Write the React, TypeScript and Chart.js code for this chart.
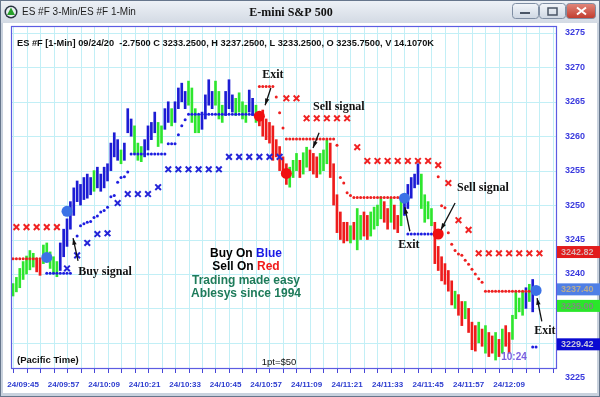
import React, { useEffect, useRef } from "react";
import { Chart, registerables } from "chart.js";

Chart.register(...registerables);

// ---- bar data: index = minutes after 09:42 (1-min bars) ----
const barLow = [
  3236.8, 3237.4, 3238.0, 3239.2, 3240.0, 3240.6, 3241.0, 3240.3, 3239.8, 3241.5,
  3242.0, 3240.8, 3240.0, 3239.6, 3240.5, 3242.5, 3244.0, 3246.5, 3248.5, 3250.5,
  3250.0, 3250.8, 3251.0, 3251.5, 3252.0, 3252.5, 3252.0, 3252.5, 3253.5, 3255.0,
  3257.0, 3256.5, 3256.0, 3256.5, 3260.5, 3260.0, 3257.5, 3256.5, 3256.3, 3257.0,
  3258.0, 3259.5, 3260.5, 3258.5, 3259.0, 3261.0, 3262.0, 3261.5, 3262.0, 3264.0,
  3265.0, 3264.0, 3264.5, 3262.0, 3260.5, 3260.5, 3261.0, 3262.5, 3264.5, 3264.0,
  3264.5, 3262.5, 3262.0, 3263.0, 3264.0, 3263.5, 3263.0, 3263.5, 3262.5, 3262.0,
  3263.5, 3263.0, 3262.0, 3261.5, 3260.0, 3259.5, 3259.0, 3256.5, 3257.0, 3255.0,
  3254.5, 3253.0, 3252.6, 3254.0, 3255.0, 3254.0, 3254.5, 3255.5, 3255.0, 3254.5,
  3254.0, 3254.5, 3255.0, 3256.0, 3254.0, 3250.0, 3246.0, 3245.0, 3244.5, 3244.8,
  3244.5, 3245.0, 3243.5, 3245.0, 3245.5, 3245.0, 3245.5, 3246.5, 3247.0, 3248.0,
  3247.5, 3246.5, 3247.5, 3246.5, 3246.0, 3247.0, 3248.5, 3249.5, 3251.0, 3252.5,
  3253.0, 3249.5, 3247.5, 3248.0, 3247.0, 3241.5, 3240.5, 3239.0, 3238.5, 3237.5,
  3235.5, 3235.0, 3234.0, 3232.5, 3233.5, 3231.5, 3229.0, 3228.8, 3230.0, 3229.5,
  3228.5, 3228.0, 3228.5, 3227.5, 3228.0, 3228.5, 3229.5, 3228.5, 3230.5, 3233.5,
  3234.5, 3234.0, 3235.0, 3236.0, 3234.5,
];
const barHigh = [
  3238.6, 3239.5, 3240.8, 3241.8, 3242.6, 3243.4, 3243.0, 3242.3, 3242.0, 3244.2,
  3244.5, 3243.2, 3242.5, 3241.8, 3244.5, 3246.5, 3248.0, 3250.5, 3252.5, 3253.5,
  3253.0, 3254.0, 3254.5, 3254.0, 3255.0, 3255.5, 3254.5, 3255.5, 3256.0, 3259.0,
  3260.5, 3259.5, 3258.0, 3259.0, 3264.0, 3262.5, 3261.5, 3259.0, 3258.5, 3259.5,
  3261.5, 3262.0, 3263.5, 3262.0, 3261.5, 3264.0, 3265.0, 3264.0, 3265.0, 3267.0,
  3267.7, 3266.5, 3268.0, 3267.0, 3264.0, 3263.0, 3263.5, 3266.0, 3268.2, 3266.5,
  3268.0, 3266.5, 3264.5, 3266.5, 3268.2, 3266.0, 3265.5, 3266.3, 3265.0, 3264.5,
  3266.7, 3265.5, 3264.5, 3263.5, 3263.8, 3262.5, 3262.0, 3261.5, 3259.5, 3258.5,
  3257.0, 3256.0, 3255.5, 3256.5, 3257.5, 3256.5, 3257.6, 3258.4, 3258.0, 3257.5,
  3257.0, 3257.5, 3258.0, 3259.4, 3259.0, 3256.0, 3251.5, 3249.0, 3247.5, 3247.5,
  3247.0, 3247.5, 3249.5, 3248.5, 3249.0, 3248.5, 3249.0, 3249.7, 3250.0, 3251.2,
  3250.5, 3249.5, 3251.0, 3250.0, 3248.5, 3251.0, 3251.5, 3253.0, 3254.0, 3254.5,
  3256.0, 3254.5, 3251.5, 3250.5, 3249.5, 3247.5, 3244.0, 3242.5, 3241.5, 3240.5,
  3239.0, 3237.5, 3237.0, 3236.0, 3236.0, 3235.0, 3233.0, 3232.5, 3233.0, 3232.0,
  3232.5, 3231.5, 3231.0, 3231.5, 3230.5, 3232.0, 3232.5, 3231.5, 3234.0, 3237.5,
  3236.5, 3237.5, 3238.0, 3238.5, 3239.2,
];
// g = neutral/up (green), b = buy mode (blue), r = sell mode (red)
const barState = (
  "gggggggrrgggggbbbbbbbbbbgbbbbbbbgbbbgggbbbbggbbgbbbbggggbbbbgggbbbggggbbg" +
  "rrrrrrrrrgggrggrrrgggrrrrrrgrggrrggggrrgrrgbbbbbggggrrrrrrgrrgrrrgrgrrgrgrrggggbgb"
).split("");

// ---- trailing stop dots (1-min) ----
const redStopMin = [
  0, 1, 2, 3, 4, 5, 6, 7, 8, 9,
  73, 74, 75, 76, 77, 78, 79, 80,
  81, 82, 83, 84, 85, 86, 87, 88, 89, 90, 91, 92, 93, 94, 95,
  96, 97, 98, 99, 100, 101, 102, 103, 104, 105, 106, 107, 108, 109, 110, 111, 112, 113, 114, 115,
  126, 127, 128, 129, 130, 131, 132, 133, 134, 135, 136, 137, 138, 139,
  140, 141, 142, 143, 144, 145, 146, 147, 148, 149, 150, 151, 152, 153,
];
const redStopPrice = [
  3242.2, 3242.2, 3242.2, 3242.2, 3242.2, 3242.2, 3242.2, 3242.2, 3242.2, 3242.2,
  3267.2, 3267.2, 3267.2, 3267.2, 3267.2, 3265.7, 3263.4, 3261.2,
  3259.6, 3259.6, 3259.6, 3259.6, 3259.6, 3259.6, 3259.6, 3259.6, 3259.6, 3259.6, 3259.6, 3259.6, 3259.6, 3259.6, 3259.6,
  3258.7, 3254.0, 3253.2, 3251.8, 3251.4, 3251.1, 3251.1, 3251.1, 3251.1, 3251.1, 3251.1, 3251.1, 3251.1, 3251.1, 3251.1, 3251.1, 3251.1, 3251.1, 3251.1, 3251.1,
  3254.1, 3249.9, 3249.6, 3246.0, 3244.3, 3243.4, 3242.9, 3242.7, 3242.0, 3241.4, 3240.7, 3240.0, 3239.3, 3238.8,
  3237.5, 3237.5, 3237.5, 3237.5, 3237.5, 3237.5, 3237.5, 3237.5, 3237.5, 3237.5, 3237.5, 3237.5, 3237.5, 3237.5,
];
const blueStopMin = [
  10, 11, 12, 13, 14, 15, 16, 17,
  19, 20, 21, 22, 23, 24, 25, 26, 27, 28, 29, 30, 31, 32, 33, 34,
  35, 36, 37, 38, 39, 40, 41, 42, 43, 44, 45,
  46, 47, 48, 49, 50, 51,
  52, 53, 54, 55, 56, 57, 58, 59, 60, 61, 62, 63, 64, 65, 66, 67, 68, 69, 70, 71, 72,
  117, 118, 119, 120, 121, 122, 123, 124,
  154, 155,
];
const blueStopPrice = [
  3240.1, 3240.1, 3240.1, 3240.1, 3240.1, 3240.1, 3240.1, 3240.1,
  3245.5, 3247.0, 3247.3, 3247.5, 3247.6, 3248.2, 3248.4, 3249.0, 3249.2, 3249.7, 3251.2, 3251.4, 3253.3, 3254.0, 3254.1, 3254.8,
  3257.4, 3257.4, 3257.4, 3257.4, 3257.4, 3257.4, 3257.4, 3257.4, 3257.4, 3257.4, 3257.4,
  3258.9, 3258.9, 3258.9, 3260.2, 3261.5, 3262.4,
  3263.2, 3263.2, 3263.2, 3263.2, 3263.2, 3263.2, 3263.2, 3263.2, 3263.2, 3263.2, 3263.2, 3263.2, 3263.2, 3263.2, 3263.2, 3263.2, 3263.2, 3263.2, 3263.2, 3263.2, 3263.2,
  3245.8, 3245.8, 3245.8, 3245.8, 3245.8, 3245.8, 3245.8, 3245.8,
  3229.4, 3229.4,
];

// ---- 3-min X markers ----
const redXMin = [1, 4, 7, 10, 13, 81, 84, 87, 90, 93, 96, 99, 102, 105, 108, 111, 114, 117, 120, 123, 126, 129, 132, 135, 138, 141, 144, 147, 150, 153, 156];
const redXPrice = [
  3246.8, 3246.8, 3246.8, 3246.8, 3246.8, 3265.5, 3265.5, 3262.6, 3262.6, 3262.6, 3262.6, 3262.6, 3258.4,
  3256.4, 3256.4, 3256.4, 3256.4, 3256.4, 3256.4, 3256.4, 3255.8, 3253.2, 3247.8, 3246.4,
  3243.0, 3243.0, 3243.0, 3243.0, 3243.0, 3243.0, 3243.0,
];
const blueXMin = [16, 19, 22, 25, 28, 31, 34, 37, 40, 43, 46, 49, 52, 55, 58, 61, 64, 67, 70, 73, 76, 79];
const blueXPrice = [
  3240.8, 3242.7, 3244.5, 3245.8, 3245.9, 3250.3, 3251.6, 3251.6, 3251.6, 3252.6,
  3255.2, 3255.2, 3255.2, 3255.2, 3255.2, 3255.2, 3257.0, 3257.0, 3257.0, 3257.0, 3257.0, 3257.0,
];

// ---- signal circles ----
const blueDotMin = [10, 16, 116, 155];
const blueDotPrice = [3242.4, 3249.1, 3251.0, 3237.6];
const redDotMin = [73, 81, 126];
const redDotPrice = [3262.9, 3254.6, 3245.8];

// ---- axes ----
const timeLabels = ["24/09:45", "24/09:57", "24/10:09", "24/10:21", "24/10:33", "24/10:45", "24/10:57", "24/11:09", "24/11:21", "24/11:33", "24/11:45", "24/11:57", "24/12:09"];
const timeLabelMin = [3, 15, 27, 39, 51, 63, 75, 87, 99, 111, 123, 135, 147];
const priceTicks = [3275, 3270, 3265, 3260, 3255, 3250, 3245, 3240, 3235, 3230, 3225];
const tagValues = [3242.82, 3237.4, 3235.0, 3229.42];
const tagLabels = ["3242.82", "3237.40", "3235.00", "3229.42"];
const tagBg = ["#e21c1c", "#4f7fe6", "#2ae62a", "#0a0ad2"];
const tagFg = ["#dcb4b4", "#b8ab90", "#7f8a7f", "#c9c9dd"];

// ---- callouts (text anchor + arrow from -> to, in minute/price units) ----
const noteText = ["Buy signal", "Exit", "Sell signal", "Exit", "Sell signal", "Exit"];
const noteAlign = ["left", "center", "left", "center", "left", "center"];
const noteMin = [19.3, 77.0, 88.9, 117.3, 131.6, 157.6];
const notePrice = [3240.3, 3268.9, 3264.2, 3244.2, 3252.5, 3231.7];
const arrowFrom = [[19.26, 3241.9], [76.4, 3267.0], [90.7, 3260.5], [117.6, 3246.2], [131.0, 3250.3], [156.7, 3233.1]];
const arrowTo = [[17.8, 3245.2], [74.7, 3264.5], [88.9, 3258.3], [116.1, 3249.7], [126.8, 3246.4], [155.3, 3236.5]];

const headerText = "ES #F [1-Min] 09/24/20  -2.7500 C 3233.2500, H 3237.2500, L 3233.2500, O 3235.7500, V 14.1070K";

const stateColor: Record<string, string> = { g: "#2ee62e", b: "#1c1cd4", r: "#ee1c1c" };

function drawArrow(ctx: CanvasRenderingContext2D, x1: number, y1: number, x2: number, y2: number) {
  ctx.beginPath();
  ctx.moveTo(x1, y1);
  ctx.lineTo(x2, y2);
  ctx.stroke();
  const a = Math.atan2(y2 - y1, x2 - x1);
  const L = 7, w = 0.32;
  ctx.beginPath();
  ctx.moveTo(x2, y2);
  ctx.lineTo(x2 - L * Math.cos(a - w), y2 - L * Math.sin(a - w));
  ctx.lineTo(x2 - L * Math.cos(a + w), y2 - L * Math.sin(a + w));
  ctx.closePath();
  ctx.fill();
}

function roundRect(ctx: CanvasRenderingContext2D, x: number, y: number, w: number, h: number, r: number) {
  ctx.beginPath();
  ctx.moveTo(x + r, y);
  ctx.lineTo(x + w - r, y);
  ctx.quadraticCurveTo(x + w, y, x + w, y + r);
  ctx.lineTo(x + w, y + h - r);
  ctx.quadraticCurveTo(x + w, y + h, x + w - r, y + h);
  ctx.lineTo(x + r, y + h);
  ctx.quadraticCurveTo(x, y + h, x, y + h - r);
  ctx.lineTo(x, y + r);
  ctx.quadraticCurveTo(x, y, x + r, y);
  ctx.closePath();
}

const decor = {
  id: "decor",
  beforeDraw(chart: any) {
    const ctx: CanvasRenderingContext2D = chart.ctx;
    const W = chart.width, H = chart.height;
    ctx.save();
    ctx.fillStyle = "#c9d2de";
    ctx.fillRect(0, 0, W, H);
    const g = ctx.createLinearGradient(0, 0, 0, 23);
    g.addColorStop(0, "#eef2f7");
    g.addColorStop(1, "#d3dae4");
    ctx.fillStyle = g;
    ctx.fillRect(0, 0, W, 23);
    ctx.fillStyle = "#ffffff";
    ctx.fillRect(3, 23, W - 6, H - 27);
    ctx.strokeStyle = "#66768c";
    ctx.lineWidth = 1;
    ctx.strokeRect(0.5, 0.5, W - 1, H - 1);

    // icon
    ctx.fillStyle = "#2a3442";
    ctx.beginPath();
    ctx.arc(11, 12, 6.5, 0, Math.PI * 2);
    ctx.fill();
    ctx.fillStyle = "#e8eef2";
    ctx.beginPath();
    ctx.arc(11, 12, 5, 0, Math.PI * 2);
    ctx.fill();
    ctx.fillStyle = "#27a02a";
    ctx.beginPath();
    ctx.moveTo(11, 7.5);
    ctx.lineTo(15, 15);
    ctx.lineTo(7, 15);
    ctx.closePath();
    ctx.fill();

    ctx.textBaseline = "middle";
    ctx.fillStyle = "#1e1e1e";
    ctx.font = "10px 'Liberation Sans', Arial, sans-serif";
    ctx.textAlign = "left";
    ctx.fillText("ES #F 3-Min/ES #F 1-Min", 22, 12.5);
    ctx.fillStyle = "#111";
    ctx.font = "bold 12px 'Liberation Serif', 'Times New Roman', serif";
    ctx.textAlign = "center";
    ctx.fillText("E-mini S&P 500", 291, 12.5);

    // window buttons
    const btn = (x: number, w: number, c1: string, c2: string) => {
      const bg = ctx.createLinearGradient(0, 3, 0, 19);
      bg.addColorStop(0, c1);
      bg.addColorStop(1, c2);
      ctx.fillStyle = bg;
      roundRect(ctx, x, 3.5, w, 15, 3);
      ctx.fill();
      ctx.strokeStyle = "#7f8ea3";
      ctx.stroke();
    };
    btn(512.5, 26, "#f4f7fb", "#cdd6e2");
    btn(539.5, 26, "#f4f7fb", "#cdd6e2");
    btn(566.5, 29, "#e28a7e", "#c0392b");
    ctx.fillStyle = "#4a5566";
    ctx.fillRect(520, 12, 10, 2);
    ctx.strokeStyle = "#4a5566";
    ctx.lineWidth = 1.5;
    ctx.strokeRect(548, 8, 9, 7);
    ctx.strokeStyle = "#ffffff";
    ctx.lineWidth = 2;
    ctx.beginPath();
    ctx.moveTo(577, 7.5); ctx.lineTo(586, 14.5);
    ctx.moveTo(586, 7.5); ctx.lineTo(577, 14.5);
    ctx.stroke();
    ctx.restore();
  },
  beforeDatasetsDraw(chart: any) {
    const ctx: CanvasRenderingContext2D = chart.ctx;
    const { left, right, top, bottom } = chart.chartArea;
    const xs = chart.scales.x, ys = chart.scales.y;
    ctx.save();
    ctx.strokeStyle = "#c2eff6";
    ctx.lineWidth = 1;
    ctx.beginPath();
    for (let m = 0; m <= 160; m += 4) {
      const x = Math.round(xs.getPixelForValue(m)) + 0.5;
      if (x <= left + 1 || x >= right - 1) continue;
      ctx.moveTo(x, top);
      ctx.lineTo(x, bottom);
    }
    for (let p = 3230; p <= 3275; p += 5) {
      const y = Math.round(ys.getPixelForValue(p)) + 0.5;
      if (y <= top + 1 || y >= bottom - 1) continue;
      ctx.moveTo(left, y);
      ctx.lineTo(right, y);
    }
    ctx.stroke();

    // header line inside the plot
    ctx.fillStyle = "#111";
    ctx.textBaseline = "middle";
    ctx.textAlign = "left";
    ctx.font = "bold 9px 'Liberation Sans', Arial, sans-serif";
    const w = ctx.measureText(headerText).width;
    const size = (9 * 417) / w;
    ctx.font = `bold ${size.toFixed(2)}px 'Liberation Sans', Arial, sans-serif`;
    ctx.fillText(headerText, 17, 43);

    // center message
    const cx = 246;
    const mixed = (a: string, b: string, col: string, y: number) => {
      ctx.font = "bold 12px 'Liberation Sans', Arial, sans-serif";
      const wa = ctx.measureText(a).width, wb = ctx.measureText(b).width;
      const x0 = cx - (wa + wb) / 2;
      ctx.textAlign = "left";
      ctx.fillStyle = "#000";
      ctx.fillText(a, x0, y);
      ctx.fillStyle = col;
      ctx.fillText(b, x0 + wa, y);
    };
    mixed("Buy On ", "Blue", "#1a1ae6", 254);
    mixed("Sell On ", "Red", "#f01a1a", 267);
    ctx.textAlign = "center";
    ctx.fillStyle = "#1e7b5a";
    ctx.font = "bold 12px 'Liberation Sans', Arial, sans-serif";
    ctx.fillText("Trading made easy", cx, 280.5);
    ctx.fillText("Ablesys since 1994", cx, 293.5);

    ctx.fillStyle = "#111";
    ctx.textAlign = "left";
    ctx.font = "bold 9.5px 'Liberation Sans', Arial, sans-serif";
    ctx.fillText("(Pacific Time)", 17, 360.5);
    ctx.textAlign = "center";
    ctx.font = "9.5px 'Liberation Sans', Arial, sans-serif";
    ctx.fillText("1pt=$50", 279, 362.5);
    ctx.restore();
  },
  afterDraw(chart: any) {
    const ctx: CanvasRenderingContext2D = chart.ctx;
    const { left, right, top, bottom } = chart.chartArea;
    const xs = chart.scales.x, ys = chart.scales.y;
    ctx.save();
    // plot frame
    ctx.strokeStyle = "#5c5ce2";
    ctx.lineWidth = 1.2;
    ctx.strokeRect(left + 0.5, top + 0.5, right - left - 1, bottom - top - 1);

    // bottom ticks
    ctx.strokeStyle = "#4646d8";
    ctx.lineWidth = 1;
    ctx.beginPath();
    for (let m = 0; m <= 160; m += 4) {
      const x = Math.round(xs.getPixelForValue(m)) + 0.5;
      if (x <= left || x >= right) continue;
      ctx.moveTo(x, bottom);
      ctx.lineTo(x, bottom + 4);
    }
    ctx.stroke();

    // time labels
    ctx.fillStyle = "#2d3ccf";
    ctx.font = "bold 8px 'Liberation Sans', Arial, sans-serif";
    ctx.textAlign = "center";
    ctx.textBaseline = "middle";
    timeLabels.forEach((t, i) => ctx.fillText(t, xs.getPixelForValue(timeLabelMin[i]), 385));

    // price labels
    ctx.fillStyle = "#3a3ade";
    ctx.font = "bold 9px 'Liberation Sans', Arial, sans-serif";
    ctx.textAlign = "left";
    priceTicks.forEach((p) => ctx.fillText(String(p), 565, ys.getPixelForValue(p)));

    // price tags
    tagValues.forEach((v, i) => {
      const y = ys.getPixelForValue(v) - 2.5;
      ctx.fillStyle = tagBg[i];
      ctx.fillRect(557, y - 6, 43, 12);
      ctx.fillStyle = tagFg[i];
      ctx.font = "bold 9px 'Liberation Sans', Arial, sans-serif";
      ctx.textAlign = "left";
      ctx.fillText(tagLabels[i], 561, y + 0.5);
    });

    // countdown
    ctx.fillStyle = "#7a5fe0";
    ctx.font = "bold 10px 'Liberation Sans', Arial, sans-serif";
    ctx.textAlign = "center";
    ctx.fillText("10:24", 514, 357);

    // callouts
    ctx.fillStyle = "#111";
    ctx.strokeStyle = "#111";
    ctx.lineWidth = 1.3;
    ctx.font = "bold 12px 'Liberation Serif', 'Times New Roman', serif";
    noteText.forEach((t, i) => {
      ctx.textAlign = noteAlign[i] as CanvasTextAlign;
      ctx.fillText(t, xs.getPixelForValue(noteMin[i]), ys.getPixelForValue(notePrice[i]));
      drawArrow(
        ctx,
        xs.getPixelForValue(arrowFrom[i][0]), ys.getPixelForValue(arrowFrom[i][1]),
        xs.getPixelForValue(arrowTo[i][0]), ys.getPixelForValue(arrowTo[i][1])
      );
    });
    ctx.restore();
  },
};

export default function App() {
  const ref = useRef<HTMLCanvasElement>(null);
  useEffect(() => {
    const canvas = ref.current;
    if (!canvas) return;
    const pts = (xs: number[], ys: number[]) => xs.map((x, i) => ({ x, y: ys[i] }));
    const chart = new Chart(canvas, {
      type: "bar",
      data: {
        datasets: [
          {
            type: "scatter",
            data: pts(blueDotMin, blueDotPrice),
            pointRadius: 5.5,
            pointBackgroundColor: "#3b72e6",
            pointBorderWidth: 0,
            order: 0,
          } as any,
          {
            type: "scatter",
            data: pts(redDotMin, redDotPrice),
            pointRadius: 5.5,
            pointBackgroundColor: "#f01010",
            pointBorderWidth: 0,
            order: 0,
          } as any,
          {
            type: "scatter",
            data: pts(redXMin, redXPrice),
            pointStyle: "crossRot",
            pointRadius: 4,
            pointBorderColor: "#f02222",
            pointBorderWidth: 2,
            order: 1,
          } as any,
          {
            type: "scatter",
            data: pts(blueXMin, blueXPrice),
            pointStyle: "crossRot",
            pointRadius: 4,
            pointBorderColor: "#2424d8",
            pointBorderWidth: 2,
            order: 1,
          } as any,
          {
            type: "scatter",
            data: pts(redStopMin, redStopPrice),
            pointRadius: 1.5,
            pointBackgroundColor: "#ee2020",
            pointBorderWidth: 0,
            order: 2,
          } as any,
          {
            type: "scatter",
            data: pts(blueStopMin, blueStopPrice),
            pointRadius: 1.5,
            pointBackgroundColor: "#1e1ee0",
            pointBorderWidth: 0,
            order: 2,
          } as any,
          {
            type: "bar",
            data: barLow.map((lo, i) => ({ x: i, y: [lo, barHigh[i]] })),
            backgroundColor: barState.map((s) => stateColor[s]),
            borderWidth: 0,
            barThickness: 2,
            order: 3,
          } as any,
        ],
      },
      options: {
        responsive: false,
        animation: false,
        devicePixelRatio: 1,
        layout: { padding: { left: 11, top: 26, right: 43, bottom: 28 } },
        scales: {
          x: { type: "linear", min: -0.6, max: 161.2, display: false, offset: false },
          y: { type: "linear", min: 3226.2, max: 3276.0, display: false },
        },
        plugins: { legend: { display: false }, tooltip: { enabled: false } },
        events: [],
      } as any,
      plugins: [decor],
    });
    return () => chart.destroy();
  }, []);
  return (
    <div style={{ position: "absolute", left: 0, top: 0, width: 600, height: 397 }}>
      <canvas ref={ref} width={600} height={397} style={{ display: "block", width: 600, height: 397 }} />
    </div>
  );
}
